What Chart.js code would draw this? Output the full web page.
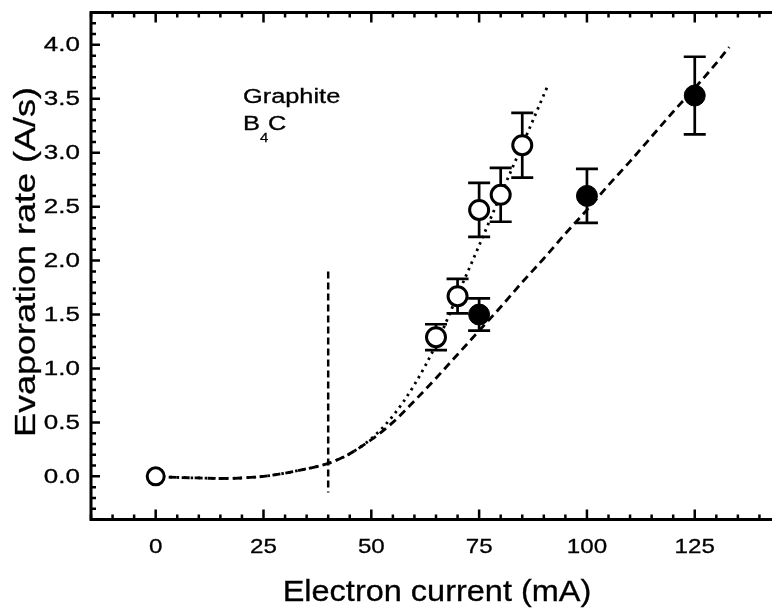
<!DOCTYPE html>
<html>
<head>
<meta charset="utf-8">
<script src="https://cdn.jsdelivr.net/npm/chart.js@4/dist/chart.umd.min.js"></script>
<style>
html, body { margin: 0; padding: 0; background: #fff; overflow: hidden; }
#wrap { width: 800px; height: 608px; }
canvas { display: block; }
</style>
</head>
<body>
<div id="wrap"><canvas id="canvas" width="800" height="608"></canvas></div>
<script>
const openX = [0, 65, 70, 75, 80, 85]
const openY = [0.0, 1.29, 1.67, 2.47, 2.61, 3.07]
const openErr = [0, 0.12, 0.16, 0.25, 0.25, 0.30]
const openSize = [8.5, 9.5, 9.5, 9.5, 9.5, 9.5]

const filledX = [75, 100, 125]
const filledY = [1.50, 2.60, 3.53]
const filledErr = [0.15, 0.25, 0.36]

// fit curves (traced)
const dashX = [0, 5, 10, 15, 20, 25, 30, 35, 40, 45, 50, 55, 60, 65, 70, 75, 80, 85, 90, 95, 100, 105, 110, 115, 120, 125, 130, 133]
const dashY = [0.0, -0.01, -0.015, -0.02, -0.015, 0.0, 0.03, 0.07, 0.12, 0.21, 0.34, 0.50, 0.70, 0.91, 1.13, 1.35, 1.57, 1.80, 2.02, 2.25, 2.47, 2.70, 2.92, 3.15, 3.38, 3.60, 3.83, 3.98]
const dotX = [0, 5, 10, 15, 20, 25, 30, 35, 40, 45, 50, 55, 60, 65, 70, 75, 80, 85, 91]
const dotY = [0.0, -0.01, -0.015, -0.02, -0.015, 0.0, 0.03, 0.07, 0.12, 0.21, 0.35, 0.56, 0.85, 1.22, 1.68, 2.14, 2.61, 3.07, 3.63]

// vertical threshold marker at 40 mA
const threshX = [40, 40]
const threshY = [1.9, -0.15]

// axis tick labels
const xTickLabels = [0, 25, 50, 75, 100, 125]
const yTickLabels = [0.0, 0.5, 1.0, 1.5, 2.0, 2.5, 3.0, 3.5, 4.0]

const toPts = (xs, ys) => xs.map((x, i) => ({x: x, y: ys[i]}))

// the original print uses a wide sans face
function wideText(ctx, text, x, y, sx, align, baseline, rot) {
    ctx.save()
    ctx.translate(x, y)
    if (rot) ctx.rotate(rot)
    ctx.scale(sx, 1)
    ctx.textAlign = align
    ctx.textBaseline = baseline
    ctx.lineWidth = 0.3
    ctx.strokeStyle = '#000'
    ctx.fillText(text, 0, 0)
    ctx.strokeText(text, 0, 0)
    ctx.restore()
}

// frame with inward ticks on all sides + error bars
const frame = {
    id: 'frame',
    beforeDatasetsDraw(chart) {
        const {ctx, chartArea: a, scales: {x, y}} = chart
        ctx.save()
        ctx.strokeStyle = '#000'
        ctx.lineWidth = 2.5
        for (let v = -15; v <= 145; v += 5) {
            const px = x.getPixelForValue(v)
            const len = v % 25 === 0 ? 10 : 5
            ctx.beginPath()
            ctx.moveTo(px, a.bottom); ctx.lineTo(px, a.bottom - len)
            ctx.moveTo(px, a.top); ctx.lineTo(px, a.top + len)
            ctx.stroke()
        }
        for (let k = -4; k <= 43; k++) {
            const py = y.getPixelForValue(k / 10)
            const len = k % 5 === 0 ? 9 : 5
            ctx.beginPath()
            ctx.moveTo(a.left, py); ctx.lineTo(a.left + len, py)
            ctx.moveTo(a.right, py); ctx.lineTo(a.right - len, py)
            ctx.stroke()
        }
        ctx.lineWidth = 3
        ctx.strokeRect(a.left, a.top, a.right - a.left, a.bottom - a.top)

        // error bars
        const bars = [[openX, openY, openErr], [filledX, filledY, filledErr]]
        ctx.lineWidth = 2.7
        bars.forEach(([xs, ys, es]) => {
            xs.forEach((xv, i) => {
                if (!es[i]) return
                const px = x.getPixelForValue(xv)
                const top = y.getPixelForValue(ys[i] + es[i])
                const bot = y.getPixelForValue(ys[i] - es[i])
                ctx.beginPath()
                ctx.moveTo(px, top); ctx.lineTo(px, bot)
                ctx.moveTo(px - 11, top); ctx.lineTo(px + 11, top)
                ctx.moveTo(px - 11, bot); ctx.lineTo(px + 11, bot)
                ctx.stroke()
            })
        })
        ctx.restore()
    }
}

// text: tick labels, axis titles, annotation
const texts = {
    id: 'texts',
    afterDraw(chart) {
        const {ctx, chartArea: a, scales: {x, y}} = chart
        ctx.save()
        ctx.fillStyle = '#000'
        ctx.font = '20px "Liberation Sans", Arial, sans-serif'
        yTickLabels.forEach(v => {
            wideText(ctx, v.toFixed(1), a.left - 11, y.getPixelForValue(v) + 1, 1.3, 'right', 'middle')
        })
        ctx.font = '21px "Liberation Sans", Arial, sans-serif'
        xTickLabels.forEach(v => {
            wideText(ctx, String(v), x.getPixelForValue(v), 547, 1.15, 'center', 'middle')
        })
        ctx.font = '29px "Liberation Sans", Arial, sans-serif'
        wideText(ctx, 'Electron current (mA)', 437, 601, 1.12, 'center', 'alphabetic')
        ctx.font = '30px "Liberation Sans", Arial, sans-serif'
        wideText(ctx, 'Evaporation rate (A/s)', 35, 262, 1.2, 'center', 'alphabetic', -Math.PI / 2)

        ctx.font = '19.5px "Liberation Sans", Arial, sans-serif'
        wideText(ctx, 'Graphite', 243, 103, 1.3, 'left', 'alphabetic')
        wideText(ctx, 'B', 243, 130, 1.3, 'left', 'alphabetic')
        ctx.font = '13px "Liberation Sans", Arial, sans-serif'
        wideText(ctx, '4', 260, 142, 1.15, 'left', 'alphabetic')
        ctx.font = '19.5px "Liberation Sans", Arial, sans-serif'
        wideText(ctx, 'C', 268, 130, 1.3, 'left', 'alphabetic')
        ctx.restore()
    }
}

const context = document.getElementById('canvas').getContext('2d')

new Chart(context, {
    type: 'scatter',
    data: {
        datasets: [
            {
                label: 'open',
                data: toPts(openX, openY),
                pointRadius: openSize,
                pointBackgroundColor: '#fff',
                pointBorderColor: '#000',
                pointBorderWidth: 3,
                order: 0
            },
            {
                label: 'filled',
                data: toPts(filledX, filledY),
                pointRadius: 10.5,
                pointBackgroundColor: '#000',
                pointBorderColor: '#000',
                pointBorderWidth: 1,
                order: 0
            },
            {
                label: 'dotted fit',
                data: toPts(dotX, dotY),
                showLine: true,
                pointRadius: 0,
                borderColor: '#000',
                borderWidth: 2.8,
                borderDash: [2.5, 4.5],
                cubicInterpolationMode: 'monotone',
                order: 2
            },
            {
                label: 'dashed fit',
                data: toPts(dashX, dashY),
                showLine: true,
                pointRadius: 0,
                borderColor: '#000',
                borderWidth: 2.8,
                borderDash: [8, 5],
                cubicInterpolationMode: 'monotone',
                order: 3
            },
            {
                label: 'threshold',
                data: toPts(threshX, threshY),
                showLine: true,
                pointRadius: 0,
                borderColor: '#000',
                borderWidth: 2.5,
                borderDash: [7, 4],
                order: 4
            }
        ]
    },
    options: {
        responsive: false,
        animation: false,
        layout: { padding: { top: 11, right: 19, left: 0, bottom: 0 } },
        plugins: {
            legend: { display: false },
            tooltip: { enabled: false }
        },
        scales: {
            x: {
                type: 'linear',
                min: -15,
                max: 145,
                grid: { display: false },
                border: { display: false },
                ticks: { display: false, stepSize: 25 },
                afterFit: s => { s.height = 88.5 }
            },
            y: {
                type: 'linear',
                min: -0.4,
                max: 4.3,
                grid: { display: false },
                border: { display: false },
                ticks: { display: false, stepSize: 0.5 },
                afterFit: s => { s.width = 91 }
            }
        }
    },
    plugins: [frame, texts]
})
</script>
</body>
</html>
